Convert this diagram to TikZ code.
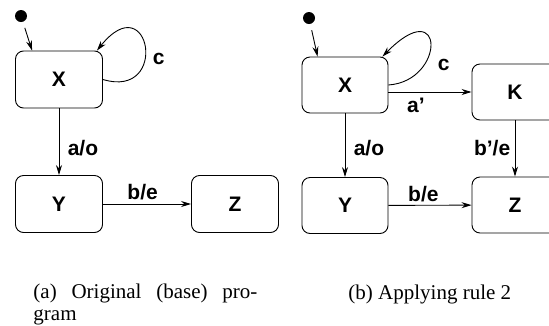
\documentclass[tikz,border=0pt]{standalone}
\usepackage{fontspec}
\setmainfont{Liberation Serif}
\newfontfamily\lblfont{Liberation Sans}
\usetikzlibrary{arrows.meta}
\begin{document}
\begin{tikzpicture}[x = 1pt, y = -1pt, line width = .9pt,
	state/.style = {draw, rounded corners = 8pt, inner sep = 0pt, minimum width = 87pt, minimum height = 57pt, font = \lblfont\bfseries\fontsize{21}{25}\selectfont},
	lbl/.style = {font = \lblfont\bfseries\fontsize{21}{25}\selectfont},
	tr/.style = {-{Stealth[length = 10pt, width = 6pt]}},
	init/.style = {circle, fill, inner sep = 0pt, minimum size = 12pt},
	capt/.style = {inner sep = 0pt, font = \fontsize{21}{22}\selectfont}]
	\clip (0,0) rectangle (549,325);
	% (a)
	\node[init] (ia) at (21,16) {};
	\node[state] (xa) at (59,79.5) {X};
	\node[state] (ya) at (59,204) {Y};
	\node[state] (za) at (235,204) {Z};
	\draw[tr, shorten <= 6pt] (ia) -- ([xshift = 17pt]xa.north west);
	\draw[tr] (xa.east) .. controls +(67,20) and +(53,-66) .. ([xshift = -6pt]xa.north east) node[lbl, right = 4pt, pos = .4] {c};
	\draw[tr] (xa) -- (ya) node[lbl, right = 5pt, pos = .6] {a/o};
	\draw[tr] (ya) -- (za) node[lbl, above, pos = .45] {b/e};
	% (b)
	\node[init] (ib) at (309,18) {};
	\node[state, minimum width = 86pt, minimum height = 56pt] (xb) at (345,85) {X};
	\node[state, minimum width = 86pt, minimum height = 56pt] (yb) at (345,205.5) {Y};
	\node[state, minimum width = 86pt, minimum height = 56pt] (kb) at (515,92) {K};
	\node[state, minimum width = 86pt, minimum height = 56pt] (zb) at (515,205) {Z};
	\draw[tr, shorten <= 6pt] (ib) -- ([xshift = 16pt]xb.north west);
	\draw[tr] (xb.east) .. controls +(57,-4) and +(63,-64) .. ([xshift = -6pt]xb.north east) node[lbl, right = 10pt, pos = .3] {c};
	\draw[tr] (xb.east |- kb) -- (kb) node[lbl, below = 2pt, pos = .33] {a’};
	\draw[tr] (xb) -- (yb) node[lbl, right = 5pt, pos = .55] {a/o};
	\draw[tr] (kb) -- (zb) node[lbl, left = 1pt, pos = .5] {b’/e};
	\draw[tr] (yb) -- (zb) node[lbl, above, pos = .42] {b/e};
	% captions
	\node[capt, anchor = north west, text width = 224pt, align = justify] (ca) at (33,283) {(a) Original (base) pro-\linebreak gram};
	\node[capt, anchor = base west] (cb) at (348,299) {(b) Applying rule 2};
\end{tikzpicture}
\end{document}
